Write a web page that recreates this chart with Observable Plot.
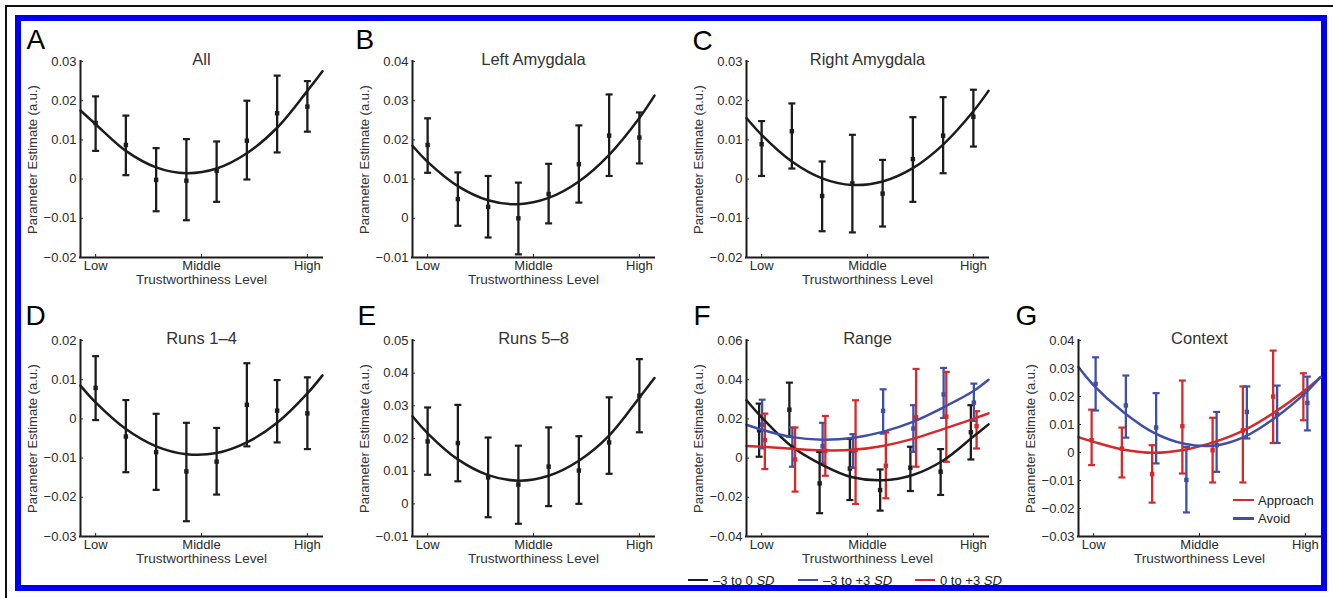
<!DOCTYPE html>
<html><head><meta charset="utf-8">
<script src="https://cdn.jsdelivr.net/npm/d3@7"></script>
<script src="https://cdn.jsdelivr.net/npm/@observablehq/plot@0.6"></script>
<style>
html,body{margin:0;padding:0;background:#fff;width:1333px;height:598px;overflow:hidden;font-family:"Liberation Sans",Arial,Helvetica,sans-serif;}
#root{position:relative;width:1333px;height:598px;overflow:hidden;}
.black-frame{position:absolute;left:5px;top:5px;width:1340px;height:600px;border-top:2px solid #111;border-left:2px solid #111;}
.blue-frame{position:absolute;left:15px;top:15px;width:1312px;height:576px;box-sizing:border-box;border:6px solid #0000f0;}
.panel{position:absolute;}
.legend-item{position:absolute;font-size:13px;line-height:16px;color:#222;white-space:nowrap;}
.legend-item .sw{display:inline-block;width:20px;height:2.5px;vertical-align:middle;margin-right:5px;position:relative;top:-1px;}
</style></head>
<body><div id="root"><div class="black-frame"></div><div class="blue-frame"></div></div>
<script>
// ---------- data ----------
const levels = [1, 2, 3, 4, 5, 6, 7, 8];
const fitX = [0.5, 1, 2, 3, 4, 5, 6, 7, 8, 8.5];
const xTickValues = [1, 4.5, 8];
const xTickLabels = ["Low", "Middle", "High"];
const xLabel = "Trustworthiness Level";
const yLabel = "Parameter Estimate (a.u.)";

// A: All
const allMean = [0.0143, 0.0087, -0.0002, -0.0004, 0.0021, 0.0098, 0.0168, 0.0185];
const allLo   = [0.0072, 0.0010, -0.0082, -0.0105, -0.0058, -0.0001, 0.0068, 0.0121];
const allHi   = [0.0211, 0.0162, 0.0079, 0.0102, 0.0096, 0.0200, 0.0264, 0.0250];
const allFit  = [0.0175, 0.0140, 0.0072, 0.0030, 0.0015, 0.0027, 0.0066, 0.0131, 0.0225, 0.0275];
const allTicks = [-0.02, -0.01, 0, 0.01, 0.02, 0.03];

// B: Left Amygdala
const leftMean = [0.0187, 0.0049, 0.0029, 0.0000, 0.0062, 0.0138, 0.0211, 0.0206];
const leftLo   = [0.0116, -0.0019, -0.0049, -0.0092, -0.0013, 0.0040, 0.0108, 0.0140];
const leftHi   = [0.0255, 0.0117, 0.0108, 0.0091, 0.0139, 0.0237, 0.0316, 0.0270];
const leftFit  = [0.0185, 0.0144, 0.0082, 0.0046, 0.0036, 0.0052, 0.0094, 0.0162, 0.0256, 0.0313];
const leftTicks = [-0.01, 0, 0.01, 0.02, 0.03, 0.04];

// C: Right Amygdala
const rightMean = [0.0089, 0.0122, -0.0043, -0.0011, -0.0037, 0.0051, 0.0111, 0.0159];
const rightLo   = [0.0008, 0.0027, -0.0133, -0.0136, -0.0121, -0.0058, 0.0015, 0.0083];
const rightHi   = [0.0148, 0.0193, 0.0045, 0.0113, 0.0049, 0.0158, 0.0209, 0.0228];
const rightFit  = [0.0156, 0.0113, 0.0045, 0.0002, -0.0015, -0.0006, 0.0028, 0.0088, 0.0173, 0.0225];
const rightTicks = [-0.02, -0.01, 0, 0.01, 0.02, 0.03];

// D: Runs 1-4
const runsEarlyMean = [0.0079, -0.0045, -0.0085, -0.0134, -0.0109, 0.0036, 0.0021, 0.0014];
const runsEarlyLo   = [-0.0003, -0.0136, -0.0181, -0.0261, -0.0193, -0.0070, -0.0060, -0.0077];
const runsEarlyHi   = [0.0160, 0.0048, 0.0013, -0.0010, -0.0023, 0.0142, 0.0099, 0.0106];
const runsEarlyFit  = [0.0085, 0.0042, -0.0026, -0.0070, -0.0090, -0.0087, -0.0060, -0.0010, 0.0065, 0.0111];
const runsEarlyTicks = [-0.03, -0.02, -0.01, 0, 0.01, 0.02];

// E: Runs 5-8
const runsLateMean = [0.0191, 0.0186, 0.0081, 0.0059, 0.0114, 0.0102, 0.0188, 0.0331];
const runsLateLo   = [0.0089, 0.0069, -0.0041, -0.0061, -0.0007, 0.0000, 0.0092, 0.0219];
const runsLateHi   = [0.0295, 0.0303, 0.0203, 0.0178, 0.0234, 0.0207, 0.0326, 0.0443];
const runsLateFit  = [0.0268, 0.0216, 0.0136, 0.0088, 0.0071, 0.0086, 0.0132, 0.0209, 0.0325, 0.0385];
const runsLateTicks = [-0.01, 0, 0.01, 0.02, 0.03, 0.04, 0.05];

// F: Range
const rangeNegMean = [0.0142, 0.0247, -0.0129, -0.0053, -0.0163, -0.0049, -0.0069, 0.0132];
const rangeNegLo   = [0.0007, 0.0110, -0.0281, -0.0214, -0.0268, -0.0168, -0.0188, -0.0007];
const rangeNegHi   = [0.0278, 0.0385, 0.0032, 0.0098, -0.0058, 0.0058, 0.0046, 0.0270];
const rangeNegFit  = [0.0295, 0.0208, 0.0059, -0.0034, -0.0098, -0.0113, -0.0086, -0.0012, 0.0110, 0.0172];
const rangeFullMean = [0.0170, 0.0058, 0.0061, 0.0037, 0.0241, 0.0151, 0.0325, 0.0283];
const rangeFullLo   = [0.0050, -0.0044, -0.0027, -0.0050, 0.0125, 0.0032, 0.0205, 0.0190];
const rangeFullHi   = [0.0298, 0.0156, 0.0180, 0.0122, 0.0351, 0.0270, 0.0460, 0.0380];
const rangeFullFit  = [0.0170, 0.0145, 0.0107, 0.0094, 0.0103, 0.0134, 0.0185, 0.0258, 0.0342, 0.0400];
const rangePosMean = [0.0092, -0.0007, 0.0037, 0.0041, -0.0039, 0.0208, 0.0212, 0.0163];
const rangePosLo   = [-0.0056, -0.0171, -0.0090, -0.0234, -0.0205, -0.0044, -0.0019, 0.0049];
const rangePosHi   = [0.0227, 0.0156, 0.0215, 0.0295, 0.0131, 0.0455, 0.0440, 0.0239];
const rangePosFit  = [0.0062, 0.0058, 0.0048, 0.0040, 0.0042, 0.0062, 0.0098, 0.0148, 0.0200, 0.0228];
const rangeTicks = [-0.04, -0.02, 0, 0.02, 0.04, 0.06];

// G: Context
const approachMean = [0.0044, 0.0014, -0.0077, 0.0094, 0.0008, 0.0079, 0.0200, 0.0207];
const approachLo   = [-0.0045, -0.0089, -0.0179, -0.0075, -0.0107, -0.0107, 0.0034, 0.0115];
const approachHi   = [0.0153, 0.0089, 0.0026, 0.0257, 0.0124, 0.0236, 0.0364, 0.0283];
const approachFit  = [0.0055, 0.0038, 0.0010, -0.0001, 0.0010, 0.0038, 0.0081, 0.0145, 0.0223, 0.0269];
const avoidMean = [0.0245, 0.0168, 0.0089, -0.0098, 0.0026, 0.0145, 0.0136, 0.0177];
const avoidLo   = [0.0150, 0.0053, -0.0039, -0.0214, -0.0069, 0.0050, 0.0034, 0.0079];
const avoidHi   = [0.0340, 0.0275, 0.0212, 0.0020, 0.0145, 0.0236, 0.0239, 0.0271];
const avoidFit  = [0.0305, 0.0240, 0.0143, 0.0070, 0.0031, 0.0025, 0.0057, 0.0124, 0.0213, 0.0269];
const contextTicks = [-0.03, -0.02, -0.01, 0, 0.01, 0.02, 0.03, 0.04];

// ---------- styles / layout ----------
const BLACK = "#1c1c1c", BLUE = "#3f4fa8", RED = "#d62a2a";
const FONT = "Liberation Sans, Arial, Helvetica, sans-serif";
const W = 326, H = 294, ML = 70, MR = 14, MT = 50, MB = 48;
const xDomain = [0.5, 8.5];

const capSymbol = {draw(ctx, size) { const r = Math.sqrt(size / Math.PI); ctx.moveTo(-r, 0); ctx.lineTo(r, 0); }};
const fmt = d => d === 0 ? "0" : (d < 0 ? "\u2212" : "") + Math.abs(d).toFixed(2);

function rows(mean, lo, hi) { return levels.map((x, i) => ({x, mean: mean[i], lo: lo[i], hi: hi[i]})); }
function fitRows(fit) { return fitX.map((x, i) => ({x, y: fit[i]})); }

const panels = [
  {letter: "A", title: "All", left: 80, top: 60.5, ldx: -54, ldy: -32, ticks: allTicks,
   series: [{d: rows(allMean, allLo, allHi), f: fitRows(allFit), c: BLACK, dx: 0}]},
  {letter: "B", title: "Left Amygdala", left: 412.3, top: 60.5, ldx: -57, ldy: -32, ticks: leftTicks,
   series: [{d: rows(leftMean, leftLo, leftHi), f: fitRows(leftFit), c: BLACK, dx: 0}]},
  {letter: "C", title: "Right Amygdala", left: 746, top: 60.5, ldx: -54, ldy: -31, ticks: rightTicks,
   series: [{d: rows(rightMean, rightLo, rightHi), f: fitRows(rightFit), c: BLACK, dx: 0}]},
  {letter: "D", title: "Runs 1\u20134", left: 80, top: 340, ldx: -55, ldy: -35, ticks: runsEarlyTicks,
   series: [{d: rows(runsEarlyMean, runsEarlyLo, runsEarlyHi), f: fitRows(runsEarlyFit), c: BLACK, dx: 0}]},
  {letter: "E", title: "Runs 5\u20138", left: 412.3, top: 340, ldx: -55, ldy: -35, ticks: runsLateTicks,
   series: [{d: rows(runsLateMean, runsLateLo, runsLateHi), f: fitRows(runsLateFit), c: BLACK, dx: 0}]},
  {letter: "F", title: "Range", left: 746, top: 340, ldx: -53, ldy: -35, ticks: rangeTicks,
   series: [
     {d: rows(rangeNegMean, rangeNegLo, rangeNegHi), f: fitRows(rangeNegFit), c: BLACK, dx: -2.5},
     {d: rows(rangeFullMean, rangeFullLo, rangeFullHi), f: fitRows(rangeFullFit), c: BLUE, dx: 0.5},
     {d: rows(rangePosMean, rangePosLo, rangePosHi), f: fitRows(rangePosFit), c: RED, dx: 3.2}]},
  {letter: "G", title: "Context", left: 1078.3, top: 340, ldx: -63, ldy: -35, ticks: contextTicks,
   series: [
     {d: rows(approachMean, approachLo, approachHi), f: fitRows(approachFit), c: RED, dx: -2},
     {d: rows(avoidMean, avoidLo, avoidHi), f: fitRows(avoidFit), c: BLUE, dx: 2}]}
];

const root = document.getElementById("root");

for (const p of panels) {
  const yDomain = [p.ticks[0], p.ticks[p.ticks.length - 1]];
  const marks = [];
  for (const s of p.series) {
    marks.push(
      Plot.ruleX(s.d, {x: "x", y1: "lo", y2: "hi", stroke: s.c, strokeWidth: 2.3, dx: s.dx}),
      Plot.dot(s.d, {x: "x", y: "hi", symbol: capSymbol, r: 3.5, stroke: s.c, strokeWidth: 2.2, fill: "none", dx: s.dx}),
      Plot.dot(s.d, {x: "x", y: "lo", symbol: capSymbol, r: 3.5, stroke: s.c, strokeWidth: 2.2, fill: "none", dx: s.dx}),
      Plot.dot(s.d, {x: "x", y: "mean", symbol: "square", r: 2.5, fill: s.c, stroke: null, dx: s.dx})
    );
  }
  for (const s of p.series) {
    marks.push(Plot.line(s.f, {x: "x", y: "y", curve: "catmull-rom", stroke: s.c, strokeWidth: 2.5}));
  }
  marks.push(
    Plot.ruleX([xDomain[0]], {stroke: "#1a1a1a", strokeWidth: 2, strokeLinecap: "square"}),
    Plot.ruleY([yDomain[0]], {stroke: "#1a1a1a", strokeWidth: 2, strokeLinecap: "square"}),
    Plot.axisY({ticks: p.ticks, tickFormat: fmt, tickSize: -3, tickPadding: 7, label: null, color: "#2a2a2a", fontSize: 13, fontFamily: FONT}),
    Plot.axisX({ticks: xTickValues, tickFormat: d => xTickLabels[xTickValues.indexOf(d)], tickSize: -3, tickPadding: 6, label: null, color: "#2a2a2a", fontSize: 13, fontFamily: FONT}),
    Plot.text([xLabel], {text: d => d, frameAnchor: "bottom", dy: 26, fontSize: 13.5, fill: "#333", fontFamily: FONT}),
    Plot.text([yLabel], {text: d => d, frameAnchor: "left", textAnchor: "middle", rotate: -90, dx: -48, fontSize: 13, fill: "#333", fontFamily: FONT}),
    Plot.text([p.title], {text: d => d, frameAnchor: "top", dy: -8, fontSize: 16.5, fill: "#333", fontFamily: FONT}),
    Plot.text([p.letter], {text: d => d, frameAnchor: "top-left", textAnchor: "start", lineAnchor: "top", dx: p.ldx, dy: p.ldy, fontSize: 28, fill: "#000", fontFamily: FONT})
  );
  const chart = Plot.plot({
    width: W, height: H, marginLeft: ML, marginRight: MR, marginTop: MT, marginBottom: MB,
    x: {domain: xDomain},
    y: {domain: yDomain},
    style: {background: "transparent", overflow: "visible", fontFamily: FONT},
    marks
  });
  const div = document.createElement("div");
  div.className = "panel";
  div.style.left = (p.left - ML) + "px";
  div.style.top = (p.top - MT) + "px";
  div.style.width = W + "px";
  div.appendChild(chart);
  root.appendChild(div);
}

// legends (HTML, below panel F and inside panel G)
const rangeLegend = [
  {c: BLACK, html: "\u20133 to 0 <i>SD</i>", left: 688},
  {c: BLUE, html: "\u20133 to +3 <i>SD</i>", left: 798},
  {c: RED, html: "0 to +3 <i>SD</i>", left: 915}
];
for (const it of rangeLegend) {
  const el = document.createElement("div");
  el.className = "legend-item";
  el.style.left = it.left + "px";
  el.style.top = "572.5px";
  el.innerHTML = `<span class="sw" style="background:${it.c}"></span>${it.html}`;
  root.appendChild(el);
}
const contextLegend = [
  {c: RED, text: "Approach", top: 492.5},
  {c: BLUE, text: "Avoid", top: 511}
];
for (const it of contextLegend) {
  const el = document.createElement("div");
  el.className = "legend-item";
  el.style.left = "1233px";
  el.style.top = it.top + "px";
  el.innerHTML = `<span class="sw" style="background:${it.c};width:21px;margin-right:4px"></span>${it.text}`;
  root.appendChild(el);
}
</script>
</body></html>
